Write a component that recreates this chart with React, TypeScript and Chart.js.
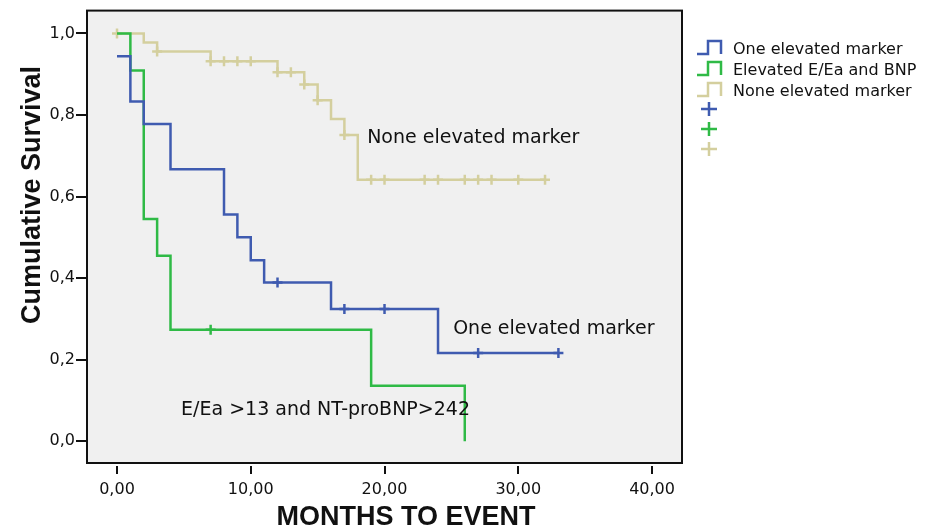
import React, { useEffect, useRef } from "react";
import { Chart, registerables } from "chart.js";

Chart.register(...registerables);

// ---- data ----
const seriesNames = ["One elevated marker", "Elevated E/Ea and BNP", "None elevated marker"];
const seriesColors = ["#3f5bb0", "#2fba46", "#d4cf9e"];

const oneTimes = [0, 1, 2, 4, 8, 9, 10, 11, 16, 24, 33];
const oneSurv = [0.944, 0.833, 0.778, 0.667, 0.556, 0.5, 0.444, 0.389, 0.324, 0.216, 0.216];
const oneCensorTimes = [12, 17, 20, 27, 33];
const oneCensorSurv = [0.389, 0.324, 0.324, 0.216, 0.216];

const bothTimes = [0, 1, 2, 3, 4, 19, 26];
const bothSurv = [1.0, 0.909, 0.545, 0.455, 0.273, 0.136, 0.0];
const bothCensorTimes = [7];
const bothCensorSurv = [0.273];

const noneTimes = [0, 2, 3, 7, 12, 14, 15, 16, 17, 18, 32];
const noneSurv = [1.0, 0.978, 0.956, 0.932, 0.905, 0.875, 0.836, 0.79, 0.751, 0.641, 0.641];
const noneCensorTimes = [0, 3, 7, 8, 9, 10, 12, 13, 14, 15, 17, 19, 20, 23, 24, 26, 27, 28, 30, 32];
const noneCensorSurv = [
  1.0, 0.956, 0.932, 0.932, 0.932, 0.932, 0.905, 0.905, 0.875, 0.836, 0.751,
  0.641, 0.641, 0.641, 0.641, 0.641, 0.641, 0.641, 0.641, 0.641,
];

const xTicks = [0, 10, 20, 30, 40];
const yTicks = [0, 0.2, 0.4, 0.6, 0.8, 1.0];

const xTitle = "MONTHS TO EVENT";
const yTitle = "Cumulative Survival";

const annotationTexts = ["None elevated marker", "One elevated marker", "E/Ea >13 and NT-proBNP>242"];
const annotationX = [18.7, 25.13, 4.79];
const annotationY = [0.732, 0.263, 0.063];

// ---- helpers ----
const pts = (xs: number[], ys: number[]) => xs.map((x, i) => ({ x, y: ys[i] }));
const FONT = "'DejaVu Sans', sans-serif";
const TITLE_FONT = "'Liberation Sans', Arial, sans-serif";

const stepDs = (label: string, xs: number[], ys: number[], color: string) => ({
  type: "line" as const,
  label,
  data: pts(xs, ys),
  borderColor: color,
  backgroundColor: color,
  borderWidth: 2.5,
  stepped: "before" as const,
  pointRadius: 0,
  fill: false,
});

const censorDs = (label: string, xs: number[], ys: number[], color: string) => ({
  type: "scatter" as const,
  label,
  data: pts(xs, ys),
  borderColor: color,
  backgroundColor: color,
  pointStyle: "cross" as const,
  pointRadius: 5,
  pointBorderWidth: 2.5,
  showLine: false,
});

const decorPlugin = {
  id: "decor",
  beforeDraw(chart: any) {
    const { ctx, chartArea: a } = chart;
    ctx.save();
    ctx.fillStyle = "#f0f0f0";
    ctx.fillRect(a.left, a.top, a.right - a.left, a.bottom - a.top);
    ctx.restore();
  },
  afterDraw(chart: any) {
    const { ctx, chartArea: a, scales } = chart;
    ctx.save();
    // frame
    ctx.strokeStyle = "#111";
    ctx.lineWidth = 2;
    ctx.strokeRect(a.left, a.top, a.right - a.left, a.bottom - a.top);

    // annotations
    ctx.fillStyle = "#111";
    ctx.font = `19px ${FONT}`;
    ctx.textAlign = "left";
    ctx.textBaseline = "alphabetic";
    annotationTexts.forEach((t, i) => {
      ctx.fillText(t, scales.x.getPixelForValue(annotationX[i]), scales.y.getPixelForValue(annotationY[i]));
    });

    // axis titles
    ctx.font = `bold 27px ${TITLE_FONT}`;
    ctx.textAlign = "center";
    ctx.textBaseline = "middle";
    ctx.fillText(xTitle, 406, 518);
    ctx.save();
    ctx.translate(33, 195);
    ctx.rotate(-Math.PI / 2);
    ctx.font = `bold 27px ${TITLE_FONT}`;
    ctx.fillText(yTitle, 0, 0);
    ctx.restore();

    // legend
    ctx.font = `16px ${FONT}`;
    ctx.textAlign = "left";
    ctx.textBaseline = "alphabetic";
    ctx.lineWidth = 2.5;
    seriesNames.forEach((name, i) => {
      const b = 54 + i * 21;
      const t = b - 13;
      ctx.strokeStyle = seriesColors[i];
      ctx.beginPath();
      ctx.moveTo(697, b);
      ctx.lineTo(708, b);
      ctx.lineTo(708, t);
      ctx.lineTo(721, t);
      ctx.lineTo(721, b);
      ctx.stroke();
      ctx.fillStyle = "#111";
      ctx.fillText(name, 733, b);
    });
    seriesColors.forEach((c, i) => {
      const cy = 109 + i * 20;
      ctx.strokeStyle = c;
      ctx.beginPath();
      ctx.moveTo(701, cy);
      ctx.lineTo(717, cy);
      ctx.moveTo(709, cy - 7);
      ctx.lineTo(709, cy + 7);
      ctx.stroke();
    });
    ctx.restore();
  },
};

export default function App() {
  const ref = useRef<HTMLCanvasElement>(null);
  useEffect(() => {
    const canvas = ref.current;
    if (!canvas) return;
    const chart = new Chart(canvas, {
      type: "line",
      data: {
        datasets: [
          stepDs(seriesNames[0], oneTimes, oneSurv, seriesColors[0]),
          stepDs(seriesNames[1], bothTimes, bothSurv, seriesColors[1]),
          stepDs(seriesNames[2], noneTimes, noneSurv, seriesColors[2]),
          censorDs(seriesNames[0] + " censored", oneCensorTimes, oneCensorSurv, seriesColors[0]),
          censorDs(seriesNames[1] + " censored", bothCensorTimes, bothCensorSurv, seriesColors[1]),
          censorDs(seriesNames[2] + " censored", noneCensorTimes, noneCensorSurv, seriesColors[2]),
        ] as any,
      },
      options: {
        animation: false,
        responsive: true,
        maintainAspectRatio: false,
        layout: { padding: { left: 0, top: 7, right: 245, bottom: 0 } },
        plugins: { legend: { display: false }, tooltip: { enabled: false } },
        scales: {
          x: {
            type: "linear",
            min: -2.243,
            max: 42.24,
            afterBuildTicks: (axis: any) => {
              axis.ticks = xTicks.map((v) => ({ value: v }));
            },
            afterFit: (axis: any) => {
              axis.height = 69;
            },
            border: { display: false },
            grid: {
              drawOnChartArea: false,
              drawTicks: true,
              tickLength: 11,
              tickColor: "#111",
              lineWidth: 2,
              tickBorderDash: [0, 3, 8, 40],
            } as any,
            ticks: {
              padding: 6,
              color: "#111",
              font: { family: FONT, size: 16 },
              maxRotation: 0,
              callback: (v: any) => Number(v).toFixed(2).replace(".", ","),
            },
          },
          y: {
            type: "linear",
            min: -0.0535,
            max: 1.056,
            afterBuildTicks: (axis: any) => {
              axis.ticks = yTicks.map((v) => ({ value: v }));
            },
            afterFit: (axis: any) => {
              axis.width = 87;
            },
            border: { display: false },
            grid: {
              drawOnChartArea: false,
              drawTicks: true,
              tickLength: 11,
              tickColor: "#111",
              lineWidth: 2,
            },
            ticks: {
              padding: 1,
              color: "#111",
              font: { family: FONT, size: 16 },
              callback: (v: any) => Number(v).toFixed(1).replace(".", ","),
            },
          },
        },
      },
      plugins: [decorPlugin],
    } as any);
    return () => chart.destroy();
  }, []);
  return (
    <div style={{ position: "fixed", left: 0, top: 0, width: 927, height: 532, background: "#fff" }}>
      <canvas ref={ref} />
    </div>
  );
}
